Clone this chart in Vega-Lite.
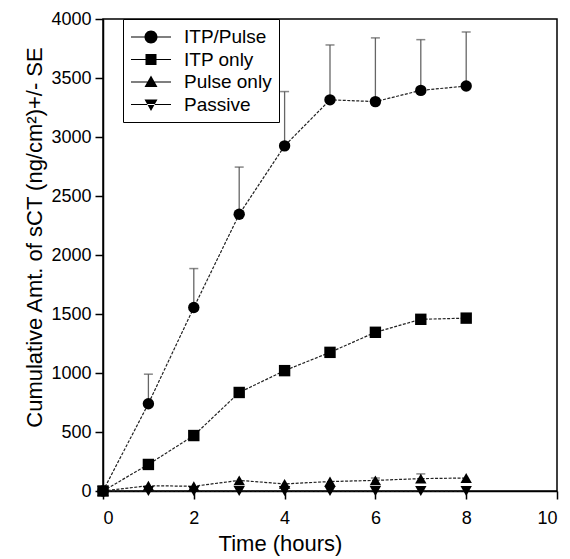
{
  "$schema": "https://vega.github.io/schema/vega-lite/v6.json",
  "autosize": {"type": "none"},
  "width": 454,
  "height": 472,
  "padding": {"left": 103, "top": 19, "right": 13, "bottom": 68},
  "background": "white",
  "config": {
    "font": "Liberation Sans",
    "view": {"stroke": "black", "strokeWidth": 1.5},
    "axis": {
      "domainColor": "black", "domainWidth": 1.5, "tickColor": "black", "tickWidth": 1.5, "tickSize": 8,
      "labelFont": "Liberation Sans", "labelFontSize": 18, "labelColor": "black",
      "titleFont": "Liberation Sans", "titleFontWeight": "normal", "titleColor": "black",
      "grid": false
    }
  },
  "data": {
    "values": [
      {"series": "ITP/Pulse", "time": 0, "value": 0, "upper": null},
      {"series": "ITP/Pulse", "time": 1, "value": 740, "upper": 990},
      {"series": "ITP/Pulse", "time": 2, "value": 1555, "upper": 1885},
      {"series": "ITP/Pulse", "time": 3, "value": 2345, "upper": 2745},
      {"series": "ITP/Pulse", "time": 4, "value": 2925, "upper": 3385},
      {"series": "ITP/Pulse", "time": 5, "value": 3315, "upper": 3780},
      {"series": "ITP/Pulse", "time": 6, "value": 3300, "upper": 3840},
      {"series": "ITP/Pulse", "time": 7, "value": 3395, "upper": 3825},
      {"series": "ITP/Pulse", "time": 8, "value": 3432, "upper": 3890},
      {"series": "ITP only", "time": 0, "value": 0, "upper": null},
      {"series": "ITP only", "time": 1, "value": 225, "upper": null},
      {"series": "ITP only", "time": 2, "value": 470, "upper": null},
      {"series": "ITP only", "time": 3, "value": 835, "upper": null},
      {"series": "ITP only", "time": 4, "value": 1020, "upper": null},
      {"series": "ITP only", "time": 5, "value": 1175, "upper": null},
      {"series": "ITP only", "time": 6, "value": 1345, "upper": null},
      {"series": "ITP only", "time": 7, "value": 1455, "upper": null},
      {"series": "ITP only", "time": 8, "value": 1465, "upper": null},
      {"series": "Pulse only", "time": 0, "value": 0, "upper": null},
      {"series": "Pulse only", "time": 1, "value": 45, "upper": null},
      {"series": "Pulse only", "time": 2, "value": 40, "upper": null},
      {"series": "Pulse only", "time": 3, "value": 90, "upper": null},
      {"series": "Pulse only", "time": 4, "value": 60, "upper": null},
      {"series": "Pulse only", "time": 5, "value": 80, "upper": null},
      {"series": "Pulse only", "time": 6, "value": 90, "upper": 110},
      {"series": "Pulse only", "time": 7, "value": 105, "upper": 145},
      {"series": "Pulse only", "time": 8, "value": 110, "upper": null},
      {"series": "Passive", "time": 0, "value": 0, "upper": null},
      {"series": "Passive", "time": 1, "value": 0, "upper": null},
      {"series": "Passive", "time": 2, "value": 0, "upper": null},
      {"series": "Passive", "time": 3, "value": 0, "upper": null},
      {"series": "Passive", "time": 4, "value": 0, "upper": null},
      {"series": "Passive", "time": 5, "value": 0, "upper": null},
      {"series": "Passive", "time": 6, "value": 0, "upper": null},
      {"series": "Passive", "time": 7, "value": 0, "upper": null},
      {"series": "Passive", "time": 8, "value": 0, "upper": null}
    ]
  },
  "encoding": {
    "x": {
      "field": "time", "type": "quantitative",
      "scale": {"domain": [0, 10], "nice": false},
      "axis": {"values": [0, 2, 4, 6, 8, 10], "title": "Time (hours)", "labelPadding": 10, "titlePadding": 6, "titleFontSize": 22, "titleX": 177}
    },
    "y": {
      "field": "value", "type": "quantitative",
      "scale": {"domain": [0, 4000], "nice": false},
      "axis": {"values": [0, 500, 1000, 1500, 2000, 2500, 3000, 3500, 4000], "format": "d", "title": "Cumulative Amt. of sCT (ng/cm²)+/- SE", "labelPadding": 4, "titlePadding": 4, "titleFontSize": 22, "titleY": 218}
    }
  },
  "layer": [
    {
      "mark": {"type": "line", "color": "#222", "strokeWidth": 1.2, "strokeDash": [3, 1.5]},
      "encoding": {"detail": {"field": "series"}}
    },
    {
      "transform": [{"filter": "datum.upper != null"}],
      "mark": {"type": "rule", "color": "#666", "strokeWidth": 1.3},
      "encoding": {"y2": {"field": "upper"}}
    },
    {
      "transform": [{"filter": "datum.upper != null"}],
      "mark": {"type": "tick", "orient": "horizontal", "color": "#555", "size": 9, "thickness": 1.5},
      "encoding": {"y": {"field": "upper", "type": "quantitative"}}
    },
    {
      "mark": {"type": "point", "filled": true, "color": "black", "opacity": 1, "size": 130},
      "encoding": {
        "shape": {
          "field": "series", "type": "nominal",
          "scale": {"domain": ["ITP/Pulse", "ITP only", "Pulse only", "Passive"], "range": ["circle", "square", "triangle-up", "triangle-down"]},
          "legend": null
        }
      }
    },
    {
      "mark": {"type": "point", "filled": true, "color": "black", "opacity": 0, "size": 400},
      "encoding": {
        "shape": {
          "field": "series", "type": "nominal",
          "scale": {"domain": ["ITP/Pulse", "ITP only", "Pulse only", "Passive"], "range": [
            "M-1,-0.06H3V0.06H-1ZM1.65,0A0.65,0.65,0,1,1,0.35,0A0.65,0.65,0,1,1,1.65,0Z",
            "M-1,-0.06H3V0.06H-1ZM0.45,-0.55H1.55V0.55H0.45Z",
            "M-1,-0.06H3V0.06H-1ZM1,-0.65L1.65,0.5H0.35Z",
            "M-1,-0.06H3V0.06H-1ZM1,0.65L1.65,-0.5H0.35Z"
          ]},
          "legend": {
            "title": null, "orient": "none", "legendX": 20, "legendY": 0,
            "strokeColor": "black", "fillColor": "white", "padding": 7,
            "labelFontSize": 19, "labelFont": "Liberation Sans", "labelColor": "black", "labelOffset": 32,
            "symbolSize": 400, "rowPadding": 1.5,
            "symbolFillColor": "black", "symbolOpacity": 1,
            "encode": {"symbols": {"update": {"opacity": {"value": 1}, "fill": {"value": "black"}}}}
          }
        }
      }
    }
  ],
  "resolve": {"scale": {"shape": "independent"}}
}
